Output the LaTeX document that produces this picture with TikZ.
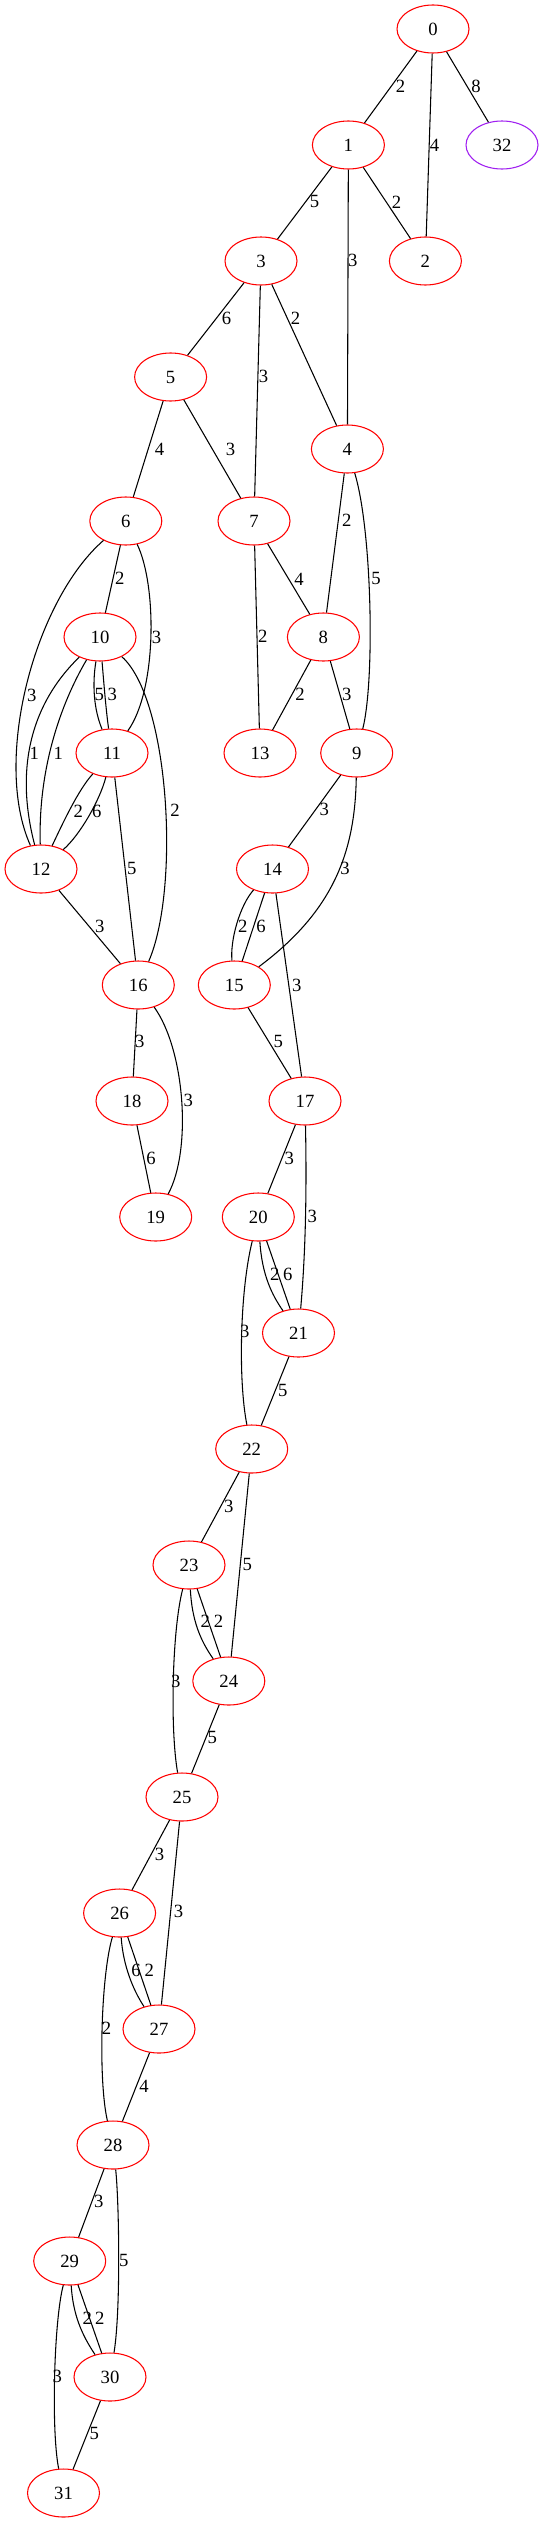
\documentclass[tikz,border=0pt]{standalone}
\usepackage{fontspec}
\setmainfont{Liberation Serif}
\usetikzlibrary{shapes.geometric}
\definecolor{gvpurple}{HTML}{A020F0}

\begin{document}
\begin{tikzpicture}[x=0.75pt,y=-0.75pt,line width=0.8pt,
	vertex/.style={ellipse, draw=red, minimum width=54pt, minimum height=36pt, inner sep=0pt, font=\fontsize{14pt}{16pt}\selectfont},
	wt/.style={inner sep=0pt, font=\fontsize{14pt}{16pt}\selectfont}]
	\useasboundingbox (0,0) rectangle (544,2523);

	\node[vertex] (n0) at (433,29) {0};
	\node[vertex] (n1) at (348.4,145) {1};
	\node[vertex, draw=gvpurple] (n32) at (502,145) {32};
	\node[vertex] (n3) at (261,261) {3};
	\node[vertex] (n2) at (425.4,261) {2};
	\node[vertex] (n5) at (170.6,377) {5};
	\node[vertex] (n4) at (347.4,449) {4};
	\node[vertex] (n6) at (125.8,521) {6};
	\node[vertex] (n7) at (254,521) {7};
	\node[vertex] (n10) at (100,637) {10};
	\node[vertex] (n8) at (323.4,637) {8};
	\node[vertex] (n11) at (112,753) {11};
	\node[vertex] (n13) at (260,753) {13};
	\node[vertex] (n9) at (356.7,753) {9};
	\node[vertex] (n12) at (41,869) {12};
	\node[vertex] (n14) at (272.5,869) {14};
	\node[vertex] (n16) at (138.3,985) {16};
	\node[vertex] (n15) at (234.3,985) {15};
	\node[vertex] (n18) at (132,1101) {18};
	\node[vertex] (n17) at (305,1101) {17};
	\node[vertex] (n19) at (155.7,1217) {19};
	\node[vertex] (n20) at (258.3,1217) {20};
	\node[vertex] (n21) at (298.5,1333) {21};
	\node[vertex] (n22) at (251.7,1449) {22};
	\node[vertex] (n23) at (189,1565) {23};
	\node[vertex] (n24) at (228.8,1681) {24};
	\node[vertex] (n25) at (182,1797) {25};
	\node[vertex] (n26) at (119.6,1913) {26};
	\node[vertex] (n27) at (159,2029) {27};
	\node[vertex] (n28) at (113,2145) {28};
	\node[vertex] (n29) at (69.7,2261) {29};
	\node[vertex] (n30) at (110,2377) {30};
	\node[vertex] (n31) at (63.5,2493) {31};

	\draw (n0) -- (n1) node[wt] (w0-1) at (400.6,86.7) {2};
	\draw (n0) -- (n2) node[wt] (w0-2) at (434.6,145) {4};
	\draw (n0) -- (n32) node[wt] (w0-32) at (476,86) {8};
	\draw (n1) -- (n3) node[wt] (w1-3) at (314.6,201.7) {5};
	\draw (n1) -- (n2) node[wt] (w1-2) at (396.5,202) {2};
	\draw (n1) -- (n4) node[wt] (w1-4) at (352.7,260) {3};
	\draw (n3) -- (n5) node[wt] (w3-5) at (226.5,318) {6};
	\draw (n3) -- (n7) node[wt] (w3-7) at (263.6,376) {3};
	\draw (n3) -- (n4) node[wt] (w3-4) at (295.5,318) {2};
	\draw (n5) -- (n6) node[wt] (w5-6) at (159.5,449) {4};
	\draw (n5) -- (n7) node[wt] (w5-7) at (230.6,449) {3};
	\draw (n4) -- (n8) node[wt] (w4-8) at (346.7,520.7) {2};
	\draw (n4) .. controls (372,530) and (375,680) .. (n9) node[wt] (w4-9) at (376,578) {5};
	\draw (n6) -- (n10) node[wt] (w6-10) at (119.7,578) {2};
	\draw (n6) .. controls (157,585) and (157,690) .. (n11) node[wt] (w6-11) at (156.5,637) {3};
	\draw (n6) .. controls (35,600) and (-8,760) .. (n12) node[wt] (w6-12) at (31.7,695) {3};
	\draw (n7) -- (n8) node[wt] (w7-8) at (299,579) {4};
	\draw (n7) -- (n13) node[wt] (w7-13) at (262.7,636.7) {2};
	\draw (n10) .. controls (92,685) and (94,710) .. (n11) node[wt] (w10-11a) at (99.3,694) {5};
	\draw (n10) .. controls (104,685) and (106,710) .. (n11) node[wt] (w10-11b) at (112.3,694) {3};
	\draw (n10) .. controls (30,705) and (15,770) .. (n12) node[wt] (w10-12a) at (34.3,753) {1};
	\draw (n10) .. controls (60,705) and (38,770) .. (n12) node[wt] (w10-12b) at (58.3,753) {1};
	\draw (n10) .. controls (170,700) and (180,890) .. (n16) node[wt] (w10-16) at (175,810.7) {2};
	\draw (n11) .. controls (78,790) and (62,825) .. (n12) node[wt] (w11-12a) at (78.3,811) {2};
	\draw (n11) .. controls (100,800) and (80,835) .. (n12) node[wt] (w11-12b) at (96.7,811) {6};
	\draw (n11) -- (n16) node[wt] (w11-16) at (131.7,868.3) {5};
	\draw (n8) -- (n13) node[wt] (w8-13) at (300,694.3) {2};
	\draw (n8) -- (n9) node[wt] (w8-9) at (346.7,694) {3};
	\draw (n9) -- (n14) node[wt] (w9-14) at (324.3,809) {3};
	\draw (n9) .. controls (355,850) and (335,910) .. (n15) node[wt] (w9-15) at (345,868.3) {3};
	\draw (n12) -- (n16) node[wt] (w12-16) at (99.9,926) {3};
	\draw (n14) .. controls (240,905) and (230,940) .. (n15) node[wt] (w14-15a) at (242.7,926.7) {2};
	\draw (n14) -- (n15) node[wt] (w14-15b) at (261,926.7) {6};
	\draw (n14) -- (n17) node[wt] (w14-17) at (296.7,985) {3};
	\draw (n15) -- (n17) node[wt] (w15-17) at (278.3,1041.7) {5};
	\draw (n16) -- (n18) node[wt] (w16-18) at (139.8,1041.7) {3};
	\draw (n16) .. controls (185,1050) and (192,1150) .. (n19) node[wt] (w16-19) at (188.3,1100) {3};
	\draw (n18) -- (n19) node[wt] (w18-19) at (151,1158) {6};
	\draw (n17) -- (n20) node[wt] (w17-20) at (289.3,1158) {3};
	\draw (n17) .. controls (307,1200) and (305,1260) .. (n21) node[wt] (w17-21) at (312.3,1216.7) {3};
	\draw (n20) .. controls (262,1275) and (272,1295) .. (n21) node[wt] (w20-21a) at (274.7,1274) {2};
	\draw (n20) -- (n21) node[wt] (w20-21b) at (287.9,1274) {6};
	\draw (n20) .. controls (240,1290) and (238,1380) .. (n22) node[wt] (w20-22) at (244.9,1331.7) {3};
	\draw (n21) -- (n22) node[wt] (w21-22) at (282.7,1390) {5};
	\draw (n22) -- (n23) node[wt] (w22-23) at (228.9,1506.7) {3};
	\draw (n22) -- (n24) node[wt] (w22-24) at (247.3,1564) {5};
	\draw (n23) .. controls (192,1620) and (200,1640) .. (n24) node[wt] (w23-24a) at (205.3,1621.7) {2};
	\draw (n23) -- (n24) node[wt] (w23-24b) at (218.5,1621.7) {2};
	\draw (n23) .. controls (172,1630) and (170,1730) .. (n25) node[wt] (w23-25) at (175.9,1681.7) {3};
	\draw (n24) -- (n25) node[wt] (w24-25) at (212.3,1737.3) {5};
	\draw (n25) -- (n26) node[wt] (w25-26) at (159.6,1854) {3};
	\draw (n25) -- (n27) node[wt] (w25-27) at (178.6,1911.7) {3};
	\draw (n26) .. controls (123,1965) and (133,1990) .. (n27) node[wt] (w26-27a) at (136,1970) {6};
	\draw (n26) -- (n27) node[wt] (w26-27b) at (149.2,1970) {2};
	\draw (n26) .. controls (101,1975) and (98,2080) .. (n28) node[wt] (w26-28) at (106.5,2028.3) {2};
	\draw (n27) -- (n28) node[wt] (w27-28) at (144,2086) {4};
	\draw (n28) -- (n29) node[wt] (w28-29) at (98.9,2201.7) {3};
	\draw (n28) .. controls (119,2200) and (121,2310) .. (n30) node[wt] (w28-30) at (123.8,2260) {5};
	\draw (n29) .. controls (73,2315) and (82,2335) .. (n30) node[wt] (w29-30a) at (87.4,2318.3) {2};
	\draw (n29) -- (n30) node[wt] (w29-30b) at (99.9,2318.3) {2};
	\draw (n29) .. controls (54,2320) and (51,2430) .. (n31) node[wt] (w29-31) at (57.2,2376) {3};
	\draw (n30) -- (n31) node[wt] (w30-31) at (94.4,2433.3) {5};
\end{tikzpicture}
\end{document}
